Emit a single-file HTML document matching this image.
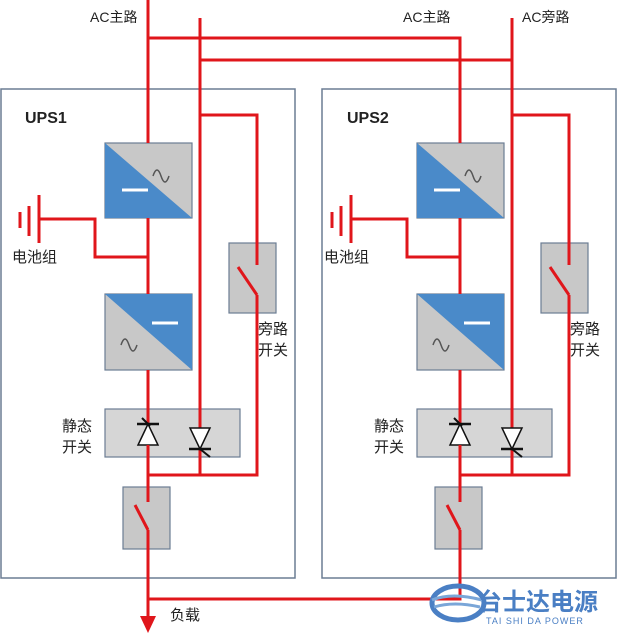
<!DOCTYPE html>
<html><head><meta charset="utf-8"><style>
html,body{margin:0;padding:0;background:#fff;width:625px;height:635px;overflow:hidden}
svg text{font-family:"Liberation Sans","Noto Sans CJK SC",sans-serif;fill:#222}
</style></head><body>
<svg width="625" height="635" viewBox="0 0 625 635" xmlns="http://www.w3.org/2000/svg">
<defs>
<g id="ups">
  <!-- rectifier -->
  <rect x="105" y="143" width="87" height="75" fill="#c8c8c8" stroke="#6b7d93" stroke-width="1.2"/>
  <polygon points="105,143 192,218 105,218" fill="#4a8ac9"/>
  <line x1="122" y1="190" x2="148" y2="190" stroke="#fff" stroke-width="3"/>
  <path d="M153,176 q4,-12 8,0 q4,12 8,0" fill="none" stroke="#555" stroke-width="1.5"/>
  <!-- inverter -->
  <rect x="105" y="294" width="87" height="76" fill="#c8c8c8" stroke="#6b7d93" stroke-width="1.2"/>
  <polygon points="105,294 192,294 192,370" fill="#4a8ac9"/>
  <line x1="152" y1="323" x2="178" y2="323" stroke="#fff" stroke-width="3"/>
  <path d="M121,345 q4,-12 8,0 q4,12 8,0" fill="none" stroke="#555" stroke-width="1.5"/>
  <!-- static switch -->
  <rect x="105" y="409" width="135" height="48" fill="#d6d6d6" stroke="#6b7d93" stroke-width="1.2"/>
  <!-- bypass switch box -->
  <rect x="229" y="243" width="47" height="70" fill="#c8c8c8" stroke="#6b7d93" stroke-width="1.2"/>
  <!-- output switch box -->
  <rect x="123" y="487" width="47" height="62" fill="#c8c8c8" stroke="#6b7d93" stroke-width="1.2"/>
  <!-- red wiring -->
  <g stroke="#e0161b" stroke-width="3" fill="none">
    <line x1="148" y1="38" x2="148" y2="143"/>
    <line x1="148" y1="218" x2="148" y2="294"/>
    <line x1="148" y1="370" x2="148" y2="502"/>
    <line x1="135" y1="505" x2="148" y2="530"/>
    <line x1="148" y1="530" x2="148" y2="600"/>
    <polyline points="39,219 95,219 95,257 148,257"/>
    <line x1="200" y1="60" x2="200" y2="475"/>
    <polyline points="200,115 257,115 257,265"/>
    <line x1="238" y1="267" x2="257" y2="295"/>
    <polyline points="257,295 257,475 148,475"/>
  </g>
  <!-- battery -->
  <g stroke="#e0161b" stroke-width="3">
    <line x1="20" y1="212" x2="20" y2="228"/>
    <line x1="29" y1="206" x2="29" y2="236"/>
    <line x1="39" y1="195" x2="39" y2="243"/>
  </g>
  <!-- diodes -->
  <g stroke="#111" stroke-width="1.5" fill="#fff">
    <polygon points="148,424 138,445 158,445"/>
    <line x1="137" y1="424" x2="159" y2="424" stroke-width="2.5"/>
    <line x1="142" y1="418" x2="150" y2="426" stroke-width="2"/>
    <polygon points="190,428 210,428 200,449"/>
    <line x1="189" y1="449" x2="211" y2="449" stroke-width="2.5"/>
    <line x1="200" y1="449" x2="210" y2="457" stroke-width="2"/>
  </g>
  <line x1="148" y1="445" x2="148" y2="457" stroke="#e0161b" stroke-width="3"/>
  <text x="62" y="431" font-size="15">静态</text>
  <text x="62" y="452" font-size="15">开关</text>
  <text x="258" y="334" font-size="15">旁路</text>
  <text x="258" y="355" font-size="15">开关</text>
  <text x="12" y="262" font-size="15">电池组</text>
</g>
</defs>
<rect x="1" y="89" width="294" height="489" fill="#fff" stroke="#6b7d93" stroke-width="1.5"/>
<rect x="322" y="89" width="294" height="489" fill="#fff" stroke="#6b7d93" stroke-width="1.5"/>
<use href="#ups"/>
<use href="#ups" transform="translate(312,0)"/>
<g stroke="#e0161b" stroke-width="3" fill="none">
  <line x1="148" y1="0" x2="148" y2="40"/>
  <polyline points="148,38 460,38 460,60"/>
  <line x1="200" y1="18" x2="200" y2="62"/>
  <line x1="512" y1="18" x2="512" y2="62"/>
  <line x1="200" y1="60" x2="512" y2="60"/>
  <polyline points="148,599 460,599 460,598"/>
  <line x1="148" y1="598" x2="148" y2="618"/>
</g>
<polygon points="140,616 156,616 148,633" fill="#e0161b"/>
<text x="90" y="22" font-size="14">AC主路</text>
<text x="403" y="22" font-size="14">AC主路</text>
<text x="522" y="22" font-size="14">AC旁路</text>
<text x="25" y="123" font-size="16" font-weight="bold">UPS1</text>
<text x="347" y="123" font-size="16" font-weight="bold">UPS2</text>
<text x="170" y="620" font-size="15">负载</text>
<!-- logo -->
<g>
  <ellipse cx="458" cy="603" rx="26" ry="17" fill="none" stroke="#4a7fc4" stroke-width="5"/>
  <path d="M432,600 q20,-8 50,0 M434,607 q20,-6 46,0" stroke="#7aa6d8" stroke-width="3" fill="none"/>
  <text x="478" y="610" font-size="24" font-weight="bold" style="fill:#4a7fc4">台士达电源</text>
  <text x="486" y="624" font-size="9" style="fill:#4a7fc4" letter-spacing="1">TAI  SHI  DA  POWER</text>
</g>
</svg>
</body></html>
